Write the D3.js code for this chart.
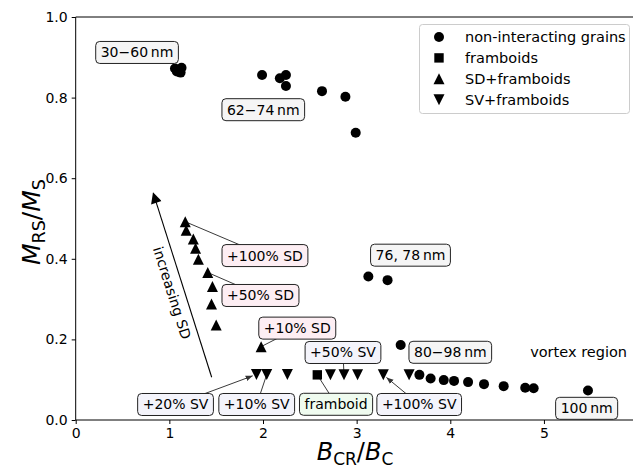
<!DOCTYPE html>
<html>
<head>
<meta charset="utf-8">
<script src="https://cdn.jsdelivr.net/npm/d3@7"></script>
<style>
  html, body { margin: 0; padding: 0; background: #fff; }
  svg { display: block; font-family: "DejaVu Sans", sans-serif; }
</style>
</head>
<body>
<svg id="chart" width="633" height="473"></svg>
<script>
// ---------- data ----------
const xTicks = [0, 1, 2, 3, 4, 5];
const yTicks = [0.0, 0.2, 0.4, 0.6, 0.8, 1.0];

const nonInteracting = [
  [1.06, 0.872], [1.08, 0.865], [1.11, 0.868], [1.13, 0.874], [1.12, 0.862],
  [1.99, 0.856], [2.18, 0.848], [2.245, 0.856], [2.245, 0.829], [2.63, 0.816],
  [2.88, 0.802], [2.99, 0.713], [3.125, 0.356], [3.33, 0.347], [3.47, 0.186],
  [3.67, 0.112], [3.79, 0.103], [3.93, 0.099], [4.04, 0.097], [4.19, 0.094],
  [4.36, 0.089], [4.57, 0.084], [4.80, 0.080], [4.89, 0.079], [5.47, 0.073]
];
const framboids = [[2.58, 0.112]];
const sdFramboids = [
  [1.17, 0.492], [1.18, 0.471], [1.256, 0.449], [1.28, 0.426], [1.31, 0.399],
  [1.41, 0.366], [1.46, 0.331], [1.45, 0.288], [1.50, 0.236], [1.98, 0.182]
];
const svFramboids = [
  [1.93, 0.113], [2.04, 0.113], [2.26, 0.113], [2.72, 0.112], [2.865, 0.112],
  [3.01, 0.112], [3.285, 0.112], [3.56, 0.112]
];

const legendItems = [
  { label: "non-interacting grains", marker: "circle" },
  { label: "framboids", marker: "square" },
  { label: "SD+framboids", marker: "up" },
  { label: "SV+framboids", marker: "down" }
];

// boxed labels: text, label centre in data coords, pointed-at mark
const sizeLabels = [
  { text: "30\u221260\u2009nm", x: 0.655, y: 0.912 },
  { text: "62\u221274\u2009nm", x: 2.003, y: 0.770 },
  { text: "76, 78\u2009nm", x: 3.575, y: 0.409 },
  { text: "80\u221298\u2009nm", x: 4.00, y: 0.168 },
  { text: "100\u2009nm", x: 5.456, y: 0.029 }
];
const sdLabels = [
  { text: "+100% SD", x: 2.021, y: 0.408, target: sdFramboids[0] },
  { text: "+50% SD", x: 1.973, y: 0.309, target: sdFramboids[5] },
  { text: "+10% SD", x: 2.366, y: 0.228, target: sdFramboids[9] }
];
const svLabels = [
  { text: "+50% SV", x: 2.854, y: 0.1675, target: svFramboids[4], arrow: false },
  { text: "+20% SV", x: 1.066, y: 0.0385, target: svFramboids[0], arrow: true },
  { text: "+10% SV", x: 1.933, y: 0.0385, target: svFramboids[1], arrow: false },
  { text: "+100% SV", x: 3.668, y: 0.0385, target: svFramboids[6], arrow: true }
];
const framboidLabels = [
  { text: "framboid", x: 2.78, y: 0.039, target: framboids[0] }
];
const vortexText = { text: "vortex region", x: 5.37, y: 0.169 };
const sdArrow = { from: [1.452, 0.106], to: [0.829, 0.5625], text: "increasing SD" };

// ---------- layout ----------
const svg = d3.select("#chart");
const x = d3.scaleLinear().domain([0, 6]).range([75.7, 75.7 + 6 * 93.65]);
const y = d3.scaleLinear().domain([0, 1]).range([420, 17]);

const g = svg.append("g");
g.append("line").attr("x1", x(0)).attr("x2", x(6)).attr("y1", y(1)).attr("y2", y(1))
  .attr("stroke", "#000").attr("stroke-width", 1);

const xAxis = g.append("g").attr("transform", `translate(0,${y(0)})`)
  .call(d3.axisBottom(x).tickValues(xTicks).tickFormat(d3.format("d")).tickSize(4).tickPadding(4));
const yAxis = g.append("g").attr("transform", `translate(${x(0)},0)`)
  .call(d3.axisLeft(y).tickValues(yTicks).tickFormat(d3.format(".1f")).tickSize(4).tickPadding(4));
[xAxis, yAxis].forEach(a => {
  a.select(".domain").attr("stroke", "#000").attr("stroke-width", 1);
  a.selectAll(".tick line").attr("stroke", "#000");
  a.selectAll(".tick text").attr("fill", "#000").attr("font-size", 14)
    .attr("font-family", "DejaVu Sans, sans-serif");
});
xAxis.select(".domain").attr("d", `M${x(0)},0H${x(6)}`);
yAxis.select(".domain").attr("d", `M0,${y(0)}V${y(1)}`);

// axis labels
const xl = svg.append("text").attr("x", 355).attr("y", 460).attr("text-anchor", "middle")
  .attr("font-size", 24).attr("fill", "#000");
xl.append("tspan").attr("font-style", "italic").text("B");
xl.append("tspan").attr("font-size", 17).attr("dy", 5).text("CR");
xl.append("tspan").attr("dy", -5).text("/");
xl.append("tspan").attr("font-style", "italic").text("B");
xl.append("tspan").attr("font-size", 17).attr("dy", 5).text("C");

const yl = svg.append("text").attr("transform", "translate(40,222) rotate(-90)")
  .attr("text-anchor", "middle").attr("font-size", 25).attr("fill", "#000");
yl.append("tspan").attr("font-style", "italic").text("M");
yl.append("tspan").attr("font-size", 17.5).attr("dy", 5).text("RS");
yl.append("tspan").attr("dy", -5).text("/");
yl.append("tspan").attr("font-style", "italic").text("M");
yl.append("tspan").attr("font-size", 17.5).attr("dy", 5).text("S");

function markerPath(type) {
  const s = 5.5;
  if (type === "circle") return d3.symbol(d3.symbolCircle, Math.PI * 5 * 5)();
  if (type === "square") return `M${-4.7},${-4.7}h9.4v9.4h-9.4Z`;
  if (type === "up") return `M0,${-s}L${s},${s}L${-s},${s}Z`;
  if (type === "down") return `M0,${s}L${s},${-s}L${-s},${-s}Z`;
}

const defs = svg.append("defs");
defs.append("marker").attr("id", "ah").attr("viewBox", "0 0 10 10")
  .attr("refX", 10).attr("refY", 5).attr("markerWidth", 7).attr("markerHeight", 7)
  .attr("markerUnits", "userSpaceOnUse").attr("orient", "auto")
  .append("path").attr("d", "M0,1L10,5L0,9Z").attr("fill", "#333");
defs.append("marker").attr("id", "ah2").attr("viewBox", "0 0 10 10")
  .attr("refX", 9).attr("refY", 5).attr("markerWidth", 13).attr("markerHeight", 11)
  .attr("markerUnits", "userSpaceOnUse").attr("orient", "auto")
  .append("path").attr("d", "M0,0L10,5L0,10Z").attr("fill", "#000");

// connector lines
const conn = svg.append("g");
[...sdLabels, ...svLabels, ...framboidLabels].forEach(d => {
  const x1 = x(d.x), y1 = y(d.y), x2 = x(d.target[0]), y2 = y(d.target[1]);
  const l = conn.append("line")
    .attr("x1", x1).attr("y1", y1).attr("x2", x2).attr("y2", y2)
    .attr("stroke", "#222").attr("stroke-width", 0.9);
  if (d.arrow) {
    const len = Math.hypot(x2 - x1, y2 - y1);
    const k = (len - 4) / len;
    l.attr("x2", x1 + (x2 - x1) * k).attr("y2", y1 + (y2 - y1) * k).attr("marker-end", "url(#ah)");
  }
});

// increasing SD arrow
const arr = svg.append("g");
arr.append("line")
  .attr("x1", x(sdArrow.from[0])).attr("y1", y(sdArrow.from[1]))
  .attr("x2", x(sdArrow.to[0])).attr("y2", y(sdArrow.to[1]))
  .attr("stroke", "#000").attr("stroke-width", 1.1).attr("marker-end", "url(#ah2)");
{
  const fx = x(sdArrow.from[0]), fy = y(sdArrow.from[1]);
  const tx = x(sdArrow.to[0]), ty = y(sdArrow.to[1]);
  const ang = Math.atan2(fy - ty, fx - tx) * 180 / Math.PI;
  const mx = (fx + tx) / 2, my = (fy + ty) / 2;
  const dx = fx - tx, dy = fy - ty, L = Math.hypot(dx, dy);
  const px = dy / L, py = -dx / L;
  const off = 12;
  arr.append("text")
    .attr("transform", `translate(${mx - px * off + 1},${my - py * off + 4}) rotate(${ang})`)
    .attr("text-anchor", "middle").attr("dominant-baseline", "central")
    .attr("font-size", 14).attr("fill", "#000").text(sdArrow.text);
}

// scatter series
const marks = svg.append("g");
function drawSeries(data, type) {
  marks.selectAll(null).data(data).enter().append("path")
    .attr("transform", d => `translate(${x(d[0])},${y(d[1])})`)
    .attr("d", markerPath(type)).attr("fill", "#000");
}
drawSeries(nonInteracting, "circle");
drawSeries(framboids, "square");
drawSeries(sdFramboids, "up");
drawSeries(svFramboids, "down");

// boxed labels
const boxes = svg.append("g");
function drawBox(d, fill) {
  const gg = boxes.append("g").attr("transform", `translate(${x(d.x)},${y(d.y)})`);
  const r = gg.append("rect");
  const t = gg.append("text").attr("text-anchor", "middle").attr("dominant-baseline", "central")
    .attr("font-size", 14).attr("fill", "#000").text(d.text);
  const w = t.node().getComputedTextLength() + 10;
  const h = 22;
  r.attr("x", -w / 2).attr("y", -h / 2).attr("width", w).attr("height", h)
    .attr("rx", 4).attr("ry", 4).attr("fill", fill).attr("stroke", "#222").attr("stroke-width", 1);
}
sizeLabels.forEach(d => drawBox(d, "#f5f5f5"));
sdLabels.forEach(d => drawBox(d, "#fdeef3"));
svLabels.forEach(d => drawBox(d, "#f4f4fb"));
framboidLabels.forEach(d => drawBox(d, "#effbef"));

svg.append("text").attr("x", x(vortexText.x)).attr("y", y(vortexText.y))
  .attr("text-anchor", "middle").attr("dominant-baseline", "central")
  .attr("font-size", 14.5).attr("fill", "#000").text(vortexText.text);

// legend
const lg = svg.append("g").attr("transform", "translate(419.5,24.5)");
lg.append("rect").attr("width", 210).attr("height", 89).attr("rx", 3)
  .attr("fill", "#fff").attr("fill-opacity", 0.8).attr("stroke", "#ccc").attr("stroke-width", 1);
legendItems.forEach((d, i) => {
  const yy = 12.5 + i * 20.9;
  lg.append("path").attr("transform", `translate(19.5,${yy})`).attr("d", markerPath(d.marker)).attr("fill", "#000");
  lg.append("text").attr("x", 45.5).attr("y", yy).attr("dominant-baseline", "central")
    .attr("font-size", 14.5).attr("fill", "#000").text(d.label);
});
</script>
</body>
</html>
